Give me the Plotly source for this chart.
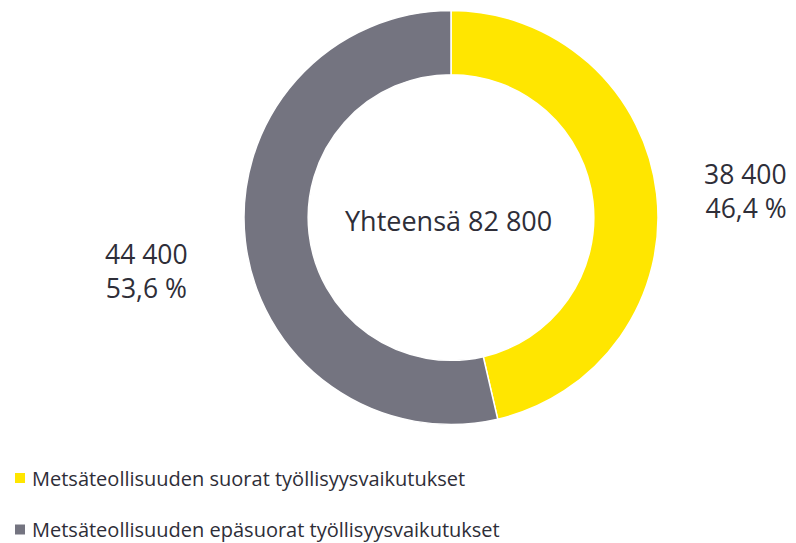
import plotly.graph_objects as go

labels = ["Metsäteollisuuden suorat työllisyysvaikutukset",
          "Metsäteollisuuden epäsuorat työllisyysvaikutukset"]
values = [38400, 44400]
percents = ["46,4 %", "53,6 %"]
total = 82800
colors = ["#FFE600", "#747480"]

W, H = 796, 543
FONT = "Open Sans"
TXT = "#2e2e38"

def fmt(v):
    return f"{v:,}".replace(",", " ")

fig = go.Figure()
fig.add_trace(go.Pie(
    labels=labels, values=values, sort=False, direction="clockwise", rotation=0,
    hole=0.69, textinfo="none", hoverinfo="label+value+percent",
    marker=dict(colors=colors, line=dict(color="white", width=1.5)),
    domain=dict(x=[244 / W, 658 / W], y=[(H - 425) / H, (H - 10) / H]),
    showlegend=False,
))

def px(x):
    return x / W

def py(y):
    return 1 - y / H

def txt(text, x, y, xanchor, size, align="center"):
    return dict(text=text, x=px(x), y=py(y), xanchor=xanchor, yanchor="middle", align=align,
                font=dict(size=size, color=TXT, family=FONT), showarrow=False)

ann = [
    txt(f"Yhteensä {fmt(total)}", 448.5, 221, "center", 27),
    txt(f"{fmt(values[0])}<br>{percents[0]}", 789, 191, "right", 26.5, "right"),
    txt(f"{fmt(values[1])}<br>{percents[1]}", 146, 271, "center", 26.5),
]
legend_y = [478, 529.5]
shapes = []
for lab, col, ly in zip(labels, colors, legend_y):
    ann.append(txt(lab, 30, ly, "left", 20, "left"))
    shapes.append(dict(type="rect", xref="paper", yref="paper",
                       x0=px(15), x1=px(25), y0=py(ly + 5), y1=py(ly - 5),
                       fillcolor=col, line=dict(width=0)))

fig.update_layout(
    width=W, height=H, margin=dict(l=0, r=0, t=0, b=0),
    paper_bgcolor="white", plot_bgcolor="white",
    annotations=ann, shapes=shapes,
)
fig.write_html("out.html", config={"displayModeBar": False},
               post_script="document.body.style.margin='0';document.body.style.overflow='hidden';")
